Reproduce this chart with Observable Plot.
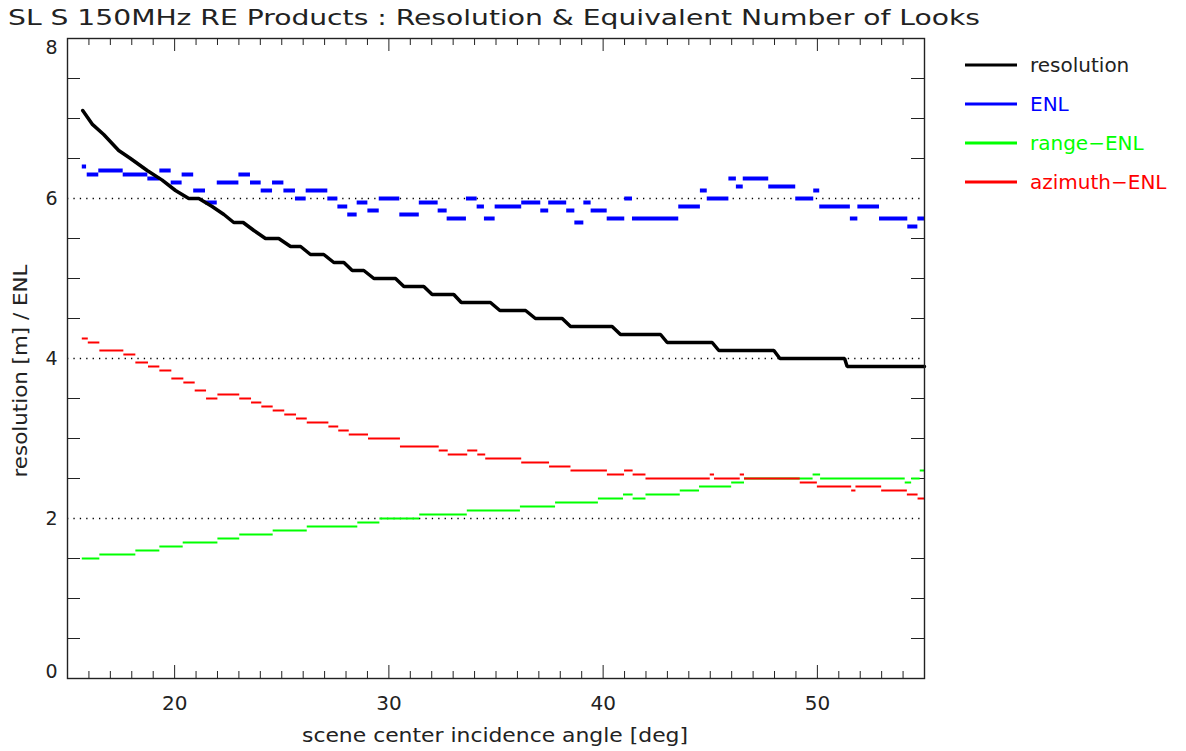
<!DOCTYPE html>
<html><head><meta charset="utf-8">
<script src="https://cdn.jsdelivr.net/npm/d3@7"></script>
<script src="https://cdn.jsdelivr.net/npm/@observablehq/plot@0.6"></script>
<style>body{margin:0;background:#fff}svg{display:block}</style>
</head><body><div id="chart"></div>
<script>
// ---- data ----
const resAngle = [15.71,16.15,16.69,17.39,17.94,18.72,19.42,20.04,20.66,21.13,21.75,22.30,22.76,23.20,23.70,24.24,24.86,25.41,25.88,26.34,26.96,27.43,27.90,28.29,28.83,29.30,30.31,30.70,31.63,32.02,33.03,33.38,34.74,35.18,36.38,36.84,38.09,38.48,40.42,40.81,42.68,42.99,45.09,45.40,47.97,48.25,51.27,51.39,55.00];
const resValue = [7.10,6.93,6.80,6.60,6.50,6.35,6.23,6.10,6.00,6.00,5.90,5.80,5.70,5.70,5.60,5.50,5.50,5.40,5.40,5.30,5.30,5.20,5.20,5.10,5.10,5.00,5.00,4.90,4.90,4.80,4.80,4.70,4.70,4.60,4.60,4.50,4.50,4.40,4.40,4.30,4.30,4.20,4.20,4.10,4.10,4.00,4.00,3.90,3.90];

const enlStart = [15.69,15.92,16.46,17.60,18.75,19.31,19.84,20.35,20.89,21.44,21.99,23.00,23.54,24.04,24.57,25.10,25.64,26.14,27.15,27.62,28.08,28.52,29.02,29.55,30.51,31.42,32.30,32.72,33.62,34.12,34.46,34.96,36.20,37.09,37.46,38.30,38.68,39.10,39.44,40.19,41.01,41.37,43.53,44.54,44.86,45.87,46.22,46.54,47.73,48.99,49.83,50.11,51.54,51.89,52.90,54.22,54.69];
const enlEnd   = [15.89,16.46,17.60,18.75,19.31,19.84,20.35,20.89,21.44,21.99,23.00,23.54,24.04,24.57,25.10,25.64,26.14,27.15,27.62,28.08,28.52,29.02,29.55,30.51,31.42,32.30,32.72,33.62,34.12,34.46,34.96,36.20,37.09,37.46,38.30,38.68,39.10,39.44,40.19,41.01,41.37,43.53,44.54,44.86,45.87,46.22,46.54,47.73,48.99,49.83,50.11,51.54,51.89,52.90,54.22,54.69,55.00];
const enlValue = [6.40,6.30,6.35,6.30,6.25,6.35,6.20,6.30,6.10,5.95,6.20,6.30,6.20,6.10,6.20,6.10,6.00,6.10,6.00,5.90,5.80,5.95,5.85,6.00,5.80,5.95,5.85,5.75,6.00,5.90,5.75,5.90,5.95,5.85,5.95,5.85,5.70,5.95,5.85,5.75,6.00,5.75,5.90,6.10,6.00,6.25,6.15,6.25,6.15,6.00,6.10,5.90,5.75,5.90,5.75,5.65,5.75];

const rangeStart = [15.69,16.51,18.19,19.31,20.40,22.02,23.04,24.60,26.19,28.55,29.58,31.44,33.66,36.14,37.78,39.78,40.95,41.40,42.00,43.60,44.50,46.00,46.60,49.80,50.15,54.10,54.40,54.80];
const rangeEnd   = [16.51,18.19,19.31,20.40,22.02,23.04,24.60,26.19,28.55,29.58,31.44,33.66,36.14,37.78,39.78,40.95,41.40,42.00,43.60,44.50,46.00,46.60,49.80,50.15,54.10,54.40,54.80,55.00];
const rangeValue = [1.50,1.55,1.60,1.65,1.70,1.75,1.80,1.85,1.90,1.95,2.00,2.05,2.10,2.15,2.20,2.25,2.30,2.25,2.30,2.35,2.40,2.45,2.50,2.55,2.50,2.45,2.50,2.60];

const azStart = [15.69,15.97,16.51,17.63,18.19,18.78,19.31,19.87,20.43,20.96,21.49,22.02,23.04,23.59,24.07,24.60,25.14,25.69,26.19,27.20,27.66,28.15,29.05,30.54,32.35,32.77,33.68,34.15,34.52,36.20,37.50,38.50,40.20,41.00,41.40,42.00,45.00,45.20,46.40,46.60,49.20,50.00,51.60,51.80,53.00,54.20,54.70];
const azEnd   = [15.97,16.51,17.63,18.19,18.78,19.31,19.87,20.43,20.96,21.49,22.02,23.04,23.59,24.07,24.60,25.14,25.69,26.19,27.20,27.66,28.15,29.05,30.54,32.35,32.77,33.68,34.15,34.52,36.20,37.50,38.50,40.20,41.00,41.40,42.00,45.00,45.20,46.40,46.60,49.20,50.00,51.60,51.80,53.00,54.20,54.70,55.00];
const azValue = [4.25,4.20,4.10,4.05,3.95,3.90,3.85,3.75,3.70,3.60,3.50,3.55,3.50,3.45,3.40,3.35,3.30,3.25,3.20,3.15,3.10,3.05,3.00,2.90,2.85,2.80,2.85,2.80,2.75,2.70,2.65,2.60,2.55,2.60,2.55,2.50,2.55,2.50,2.55,2.50,2.45,2.40,2.35,2.40,2.35,2.30,2.25];

const xMajorTicks = [20,30,40,50];
const xMinorTicks = [16,17,18,19,21,22,23,24,25,26,27,28,29,31,32,33,34,35,36,37,38,39,41,42,43,44,45,46,47,48,49,51,52,53,54];
const yLabelTop = [8];
const yLabelMid = [2,4,6];
const yLabelBottom = [0];
const yGridTicks = [2,4,6];
const yMinorTicks = [0.5,1,1.5,2.5,3,3.5,4.5,5,5.5,6.5,7,7.5];

const legendNames = ["resolution","ENL","range\u2212ENL","azimuth\u2212ENL"];
const legendColors = ["#000000","#0000ff","#00ff00","#ff0000"];

const titleText = "SL S 150MHz RE Products : Resolution & Equivalent Number of Looks";
const xLabel = "scene center incidence angle [deg]";
const yLabel = "resolution [m] / ENL";

// ---- build tables ----
const res = resAngle.map((a,i)=>({a, v: resValue[i]}));
const seg = (s,e,v)=>s.map((d,i)=>({s:d, e:e[i], v:v[i]}));
const enl = seg(enlStart, enlEnd, enlValue);
const rng = seg(rangeStart, rangeEnd, rangeValue);
const az = seg(azStart, azEnd, azValue);

const W = 1186, H = 751, mL = 67, mR = 262, mT = 38, mB = 73;
const innerW = W - mL - mR, innerH = H - mT - mB;
const FONT = "DejaVu Sans, Liberation Sans, sans-serif";
const yLab = (data, dy) => Plot.text(data, {y: d=>d, frameAnchor: "left", dx: -10, dy, textAnchor: "end", text: d=>String(d), fontSize: 19, fill: "#222"});

const plot = Plot.plot({
  width: W, height: H,
  marginLeft: mL, marginRight: mR, marginTop: mT, marginBottom: mB,
  x: {domain: [15, 55], axis: null},
  y: {domain: [0, 8], axis: null},
  style: {background: "#fff", fontFamily: FONT, overflow: "visible"},
  marks: [
    Plot.ruleY(yGridTicks, {y: d=>d, stroke: "#000", strokeWidth: 1.3, strokeDasharray: "1.3,5.1"}),
    // inward ticks
    Plot.tickX(xMinorTicks, {x: d=>d, insetTop: innerH - 7, stroke: "#222"}),
    Plot.tickX(xMinorTicks, {x: d=>d, insetBottom: innerH - 7, stroke: "#222"}),
    Plot.tickX(xMajorTicks, {x: d=>d, insetTop: innerH - 13, stroke: "#222"}),
    Plot.tickX(xMajorTicks, {x: d=>d, insetBottom: innerH - 13, stroke: "#222"}),
    Plot.tickY(yMinorTicks, {y: d=>d, insetRight: innerW - 13, stroke: "#222"}),
    Plot.tickY(yMinorTicks, {y: d=>d, insetLeft: innerW - 13, stroke: "#222"}),
    // series
    Plot.ruleY(rng, {x1: "s", x2: "e", y: "v", stroke: "#00ff00", strokeWidth: 2}),
    Plot.ruleY(az, {x1: "s", x2: "e", y: "v", stroke: "#ff0000", strokeWidth: 2}),
    Plot.ruleY(enl, {x1: "s", x2: "e", y: "v", stroke: "#0000ff", strokeWidth: 4}),
    Plot.line(res, {x: "a", y: "v", stroke: "#000", strokeWidth: 3.5, strokeLinejoin: "miter"}),
    Plot.frame({stroke: "#222", strokeWidth: 1.4}),
    // tick labels
    Plot.text(xMajorTicks, {x: d=>d, frameAnchor: "bottom", dy: 31, text: d=>String(d), fontSize: 20, fill: "#222"}),
    yLab(yLabelTop, 9),
    yLab(yLabelMid, 0),
    yLab(yLabelBottom, -7)
  ]
});

const svg = d3.select(plot);
svg.append("text").attr("x", 8).attr("y", 25).attr("text-anchor", "start").attr("font-family", FONT).attr("font-size", 21)
  .attr("fill", "#222").attr("textLength", 972).attr("lengthAdjust", "spacingAndGlyphs").text(titleText);
svg.append("text").attr("x", 495).attr("y", 742).attr("text-anchor", "middle").attr("font-family", FONT)
  .attr("font-size", 20).attr("fill", "#222").attr("textLength", 386).attr("lengthAdjust", "spacingAndGlyphs").text(xLabel);
svg.append("text").attr("transform", "translate(27,371) rotate(-90)").attr("text-anchor", "middle")
  .attr("font-family", FONT).attr("font-size", 20).attr("fill", "#222").attr("textLength", 213)
  .attr("lengthAdjust", "spacingAndGlyphs").text(yLabel);
const lg = svg.append("g");
legendNames.forEach((n, i) => {
  const y = 65 + i * 39;
  lg.append("line").attr("x1", 965).attr("x2", 1017).attr("y1", y).attr("y2", y)
    .attr("stroke", legendColors[i]).attr("stroke-width", 3);
  lg.append("text").attr("x", 1030).attr("y", y + 7).attr("text-anchor", "start").attr("font-family", FONT).attr("font-size", 20)
    .attr("fill", i === 0 ? "#222" : legendColors[i]).text(n);
});
document.getElementById("chart").appendChild(plot);
</script>
</body></html>
